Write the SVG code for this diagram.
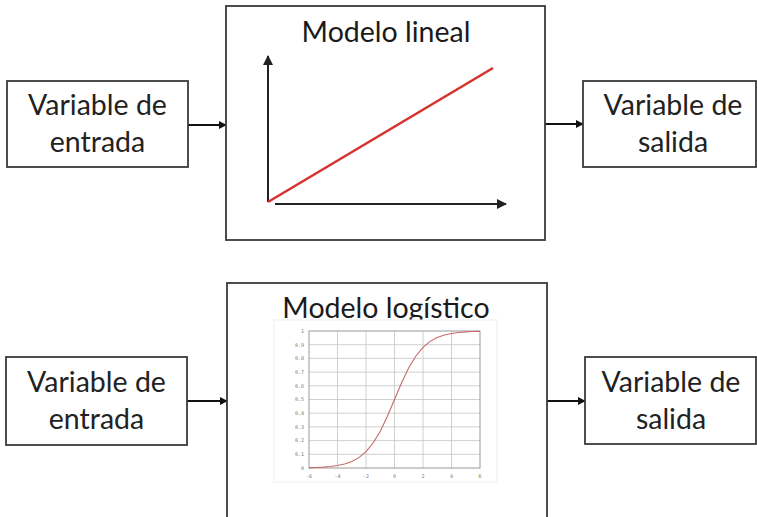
<svg xmlns="http://www.w3.org/2000/svg" width="757" height="517" viewBox="0 0 757 517">
  <style>
    .box { fill: #ffffff; stroke: #3a3a3a; stroke-width: 1.8; }
    .lbl { font-family: Lato, "Open Sans", "Liberation Sans", sans-serif; font-size: 28.5px; fill: #222222; text-anchor: middle; }
    .title { font-family: Lato, "Open Sans", "Liberation Sans", sans-serif; font-size: 28.5px; fill: #1a1a1a; text-anchor: middle; }
    .conn { stroke: #111111; stroke-width: 2; fill: none; }
    .axis { stroke: #222222; stroke-width: 2; fill: none; }
    .grid { stroke: #c4c4c4; stroke-width: 0.8; }
    .tick { font-family: "DejaVu Sans Mono", "Liberation Mono", monospace; font-size: 5px; fill: #777777; }
  </style>
  <defs>
    <marker id="arrow" viewBox="0 0 10 10" refX="9" refY="5" markerWidth="4" markerHeight="4" orient="auto" markerUnits="strokeWidth">
      <path d="M0,0 L10,5 L0,10 Z" fill="#111111"/>
    </marker>
    <marker id="axisArrow" viewBox="0 0 10 10" refX="9" refY="5" markerWidth="5" markerHeight="5" orient="auto" markerUnits="strokeWidth">
      <path d="M0,0 L10,5 L0,10 Z" fill="#222222"/>
    </marker>
  </defs>

  <rect width="757" height="517" fill="#ffffff"/>

  <!-- connectors -->
  <g id="connectors">
    <line class="conn" x1="188" y1="125" x2="226" y2="125" marker-end="url(#arrow)"/>
    <line class="conn" x1="545" y1="124" x2="583" y2="124" marker-end="url(#arrow)"/>
    <line class="conn" x1="187" y1="401" x2="227" y2="401" marker-end="url(#arrow)"/>
    <line class="conn" x1="547" y1="401" x2="585" y2="401" marker-end="url(#arrow)"/>
  </g>

  <!-- linear model row -->
  <g id="input-top">
    <rect class="box" x="7" y="81" width="181" height="86"/>
    <text class="lbl" x="97.5" y="115">Variable de</text>
    <text class="lbl" x="97.5" y="152">entrada</text>
  </g>

  <g id="linear-model">
    <rect class="box" x="226" y="6" width="319" height="234"/>
    <text class="title" x="386" y="42">Modelo lineal</text>
    <line class="axis" x1="268" y1="202" x2="268" y2="56" marker-end="url(#axisArrow)"/>
    <line class="axis" x1="275" y1="204" x2="506" y2="204" marker-end="url(#axisArrow)"/>
    <line x1="268" y1="202" x2="493" y2="68" stroke="#d6322e" stroke-width="2.6"/>
  </g>

  <g id="output-top">
    <rect class="box" x="583" y="81" width="173" height="86"/>
    <text class="lbl" x="673" y="115">Variable de</text>
    <text class="lbl" x="673" y="152">salida</text>
  </g>

  <!-- logistic model row -->
  <g id="input-bottom">
    <rect class="box" x="6" y="357" width="181" height="88"/>
    <text class="lbl" x="96.5" y="392">Variable de</text>
    <text class="lbl" x="96.5" y="429">entrada</text>
  </g>

  <g id="logistic-model">
    <rect class="box" x="227" y="283" width="320" height="250"/>
    <text class="title" x="386" y="318">Modelo logístico</text>
    <!-- sigmoid chart -->
    <rect x="274" y="320" width="223" height="162" fill="#ffffff" stroke="#eeeeee" stroke-width="1"/>
    <g>
      <line class="grid" x1="337.5" y1="331" x2="337.5" y2="468"/>
      <line class="grid" x1="366" y1="331" x2="366" y2="468"/>
      <line class="grid" x1="394.5" y1="331" x2="394.5" y2="468"/>
      <line class="grid" x1="423" y1="331" x2="423" y2="468"/>
      <line class="grid" x1="451.5" y1="331" x2="451.5" y2="468"/>
      <line class="grid" x1="309" y1="454.3" x2="480" y2="454.3"/>
      <line class="grid" x1="309" y1="440.6" x2="480" y2="440.6"/>
      <line class="grid" x1="309" y1="426.9" x2="480" y2="426.9"/>
      <line class="grid" x1="309" y1="413.2" x2="480" y2="413.2"/>
      <line class="grid" x1="309" y1="399.5" x2="480" y2="399.5"/>
      <line class="grid" x1="309" y1="385.8" x2="480" y2="385.8"/>
      <line class="grid" x1="309" y1="372.1" x2="480" y2="372.1"/>
      <line class="grid" x1="309" y1="358.4" x2="480" y2="358.4"/>
      <line class="grid" x1="309" y1="344.7" x2="480" y2="344.7"/>
    </g>
    <rect x="309" y="331" width="171" height="137" fill="none" stroke="#9a9a9a" stroke-width="1"/>
    <path d="M309,467.66 L316.1,467.44 L323.25,467.08 L330.4,466.49 L337.5,465.54 L344.6,463.98 L351.75,461.5 L358.9,457.61 L366,451.67 L373.1,443.01 L380.25,431.16 L387.4,416.28 L394.5,399.5 L401.6,382.72 L408.75,367.84 L415.9,356.01 L423,347.33 L430.1,341.39 L437.25,337.5 L444.4,335.02 L451.5,333.46 L458.6,332.51 L465.75,331.92 L472.9,331.56 L480,331.34" fill="none" stroke="#c46a6a" stroke-width="1.1"/>
    <g class="tick" text-anchor="end">
      <text x="304" y="333">1</text>
      <text x="304" y="346.5">0.9</text>
      <text x="304" y="360.2">0.8</text>
      <text x="304" y="373.9">0.7</text>
      <text x="304" y="387.6">0.6</text>
      <text x="304" y="401.3">0.5</text>
      <text x="304" y="415">0.4</text>
      <text x="304" y="428.7">0.3</text>
      <text x="304" y="442.4">0.2</text>
      <text x="304" y="456.1">0.1</text>
      <text x="304" y="469.8">0</text>
    </g>
    <g class="tick" text-anchor="middle">
      <text x="309" y="478">-6</text>
      <text x="337.5" y="478">-4</text>
      <text x="366" y="478">-2</text>
      <text x="394.5" y="478">0</text>
      <text x="423" y="478">2</text>
      <text x="451.5" y="478">4</text>
      <text x="480" y="478">6</text>
    </g>
  </g>

  <g id="output-bottom">
    <rect class="box" x="585" y="357" width="171" height="87"/>
    <text class="lbl" x="671" y="392">Variable de</text>
    <text class="lbl" x="671" y="429">salida</text>
  </g>
</svg>
